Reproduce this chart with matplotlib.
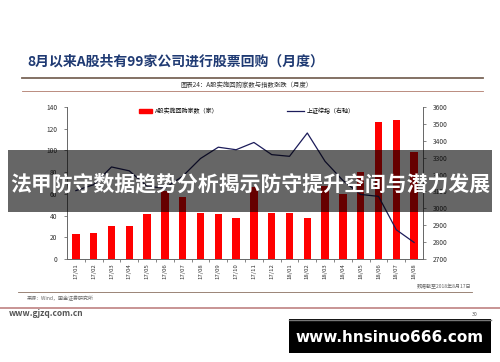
import matplotlib
matplotlib.use('Agg')
import matplotlib.pyplot as plt
from matplotlib.patches import Rectangle, Patch
from matplotlib.lines import Line2D

plt.rcParams['font.family'] = ['Noto Sans CJK SC', 'DejaVu Sans']

# 数据
months = ['17/01', '17/02', '17/03', '17/04', '17/05', '17/06', '17/07', '17/08', '17/09', '17/10',
          '17/11', '17/12', '18/01', '18/02', '18/03', '18/04', '18/05', '18/06', '18/07', '18/08']
buyback = [23, 24, 30, 30, 41, 63, 57, 42, 41, 38, 66, 42, 42, 38, 67, 60, 80, 126, 128, 99]
sh_index = [3105, 3140, 3245, 3222, 3130, 3120, 3190, 3295, 3362, 3347,
            3390, 3318, 3308, 3446, 3278, 3165, 3082, 3071, 2873, 2798]

title = '8月以来A股共有99家公司进行股票回购（月度）'
subtitle = '图表24：A股实施回购家数与指数涨跌（月度）'
bar_label = 'A股实施回购家数（家）'
line_label = '上证综指（右轴）'
banner = '法甲防守数据趋势分析揭示防守提升空间与潜力发展'

W, H = 500, 362
fig = plt.figure(figsize=(5, 3.62), dpi=100)
fig.patch.set_facecolor('white')

def fx(px):
    return px / W

def fy(py):
    return 1 - py / H

ax = fig.add_axes([fx(67), fy(259), fx(423) - fx(67), fy(107) - fy(259)])
ax2 = ax.twinx()

x = list(range(len(months)))
bars = ax.bar(x, buyback, width=0.42, color='#ff0000', zorder=2)
ln, = ax2.plot(x, sh_index, color='#1c1c5a', lw=0.9, zorder=3)

ax.set_xlim(-0.5, len(months) - 0.5)
ax.set_ylim(0, 140)
ax.set_yticks(range(0, 141, 20))
ax2.set_ylim(2700, 3600)
ax2.set_yticks(range(2700, 3601, 100))

ax.set_xticks(x)
ax.set_xticklabels(months, rotation=90, fontsize=4.3, color='#333333')
ax.set_xticks([i + 0.5 for i in x[:-1]], minor=True)
ax.tick_params(axis='x', which='major', length=0, pad=3)
ax.tick_params(axis='x', which='minor', length=2.5, width=0.5, color='#555555', direction='out')
ax.tick_params(axis='y', labelsize=4.8, labelcolor='#333333', length=2, width=0.5, color='#555555', pad=5)
ax2.tick_params(axis='y', labelsize=4.8, labelcolor='#333333', length=2, width=0.5, color='#555555', pad=5)

for a in (ax, ax2):
    a.spines['top'].set_visible(False)
    for s in ('left', 'right', 'bottom'):
        a.spines[s].set_color('#666666')
        a.spines[s].set_linewidth(0.6)

leg1 = ax2.legend([Patch(color='#ff0000')], [bar_label], loc='center left',
                  bbox_to_anchor=((140 - 67) / 356 - 0.01, (259 - 111) / 152),
                  frameon=False, fontsize=4.3, handlelength=2.2, handleheight=0.5, borderaxespad=0, handletextpad=0.5)
ax2.add_artist(leg1)
ax2.legend([Line2D([0], [0], color='#1c1c5a', lw=0.9)], [line_label], loc='center left',
           bbox_to_anchor=((288 - 67) / 356 - 0.01, (259 - 111) / 152),
           frameon=False, fontsize=4.3, handlelength=2.8, borderaxespad=0, handletextpad=0.5)

# 页面文字和分隔线
fig.text(fx(27), fy(62), title, fontsize=10, fontweight='bold', color='#1f3a73', va='center', ha='left')
fig.add_artist(Line2D([fx(22), fx(483)], [fy(77.5), fy(77.5)], color='#7a6658', lw=1.3))
fig.text(fx(247), fy(85), subtitle, fontsize=4.6, color='#333333', va='center', ha='center')
fig.add_artist(Line2D([fx(22), fx(483)], [fy(91), fy(91)], color='#b07a6a', lw=0.6))

fig.text(fx(471), fy(286.5), '数据截至2018年8月17日', fontsize=3.6, color='#666666',
         style='italic', va='center', ha='right')
fig.add_artist(Line2D([fx(18), fx(472)], [fy(292), fy(292)], color='#8a7060', lw=0.6))
fig.text(fx(27), fy(298.5), '来源：Wind，国金证券研究所', fontsize=3.6, color='#666666',
         style='italic', va='center', ha='left')
fig.add_artist(Line2D([0, 1], [fy(308), fy(308)], color='#c89494', lw=1.4))
fig.text(fx(9), fy(314), 'www.gjzq.com.cn', fontsize=6, color='#555555', fontweight='bold',
         va='center', ha='left')
fig.text(fx(475), fy(314), '30', fontsize=3.8, color='#555555', va='center', ha='center')

# 半透明横幅
fig.add_artist(Rectangle((fx(8), fy(212)), fx(492) - fx(8), fy(150) - fy(212),
                         transform=fig.transFigure, facecolor='black', alpha=0.6, lw=0, zorder=10))
fig.text(fx(250), fy(184), banner, fontsize=15, fontweight='bold', color='white',
         va='center', ha='center', zorder=11)

# 水印框
fig.add_artist(Rectangle((fx(289), fy(353)), fx(491) - fx(289), fy(319) - fy(353),
                         transform=fig.transFigure, facecolor='black', lw=0, zorder=10))
fig.add_artist(Line2D([fx(289), fx(491)], [fy(319.5), fy(319.5)], color='#777777', lw=1.0, zorder=11))
fig.text(fx(390), fy(337), 'www.hnsinuo666.com', fontsize=11, fontweight='bold', color='white',
         va='center', ha='center', family=['DejaVu Sans'], zorder=11)

fig.savefig('out.png', dpi=100)
